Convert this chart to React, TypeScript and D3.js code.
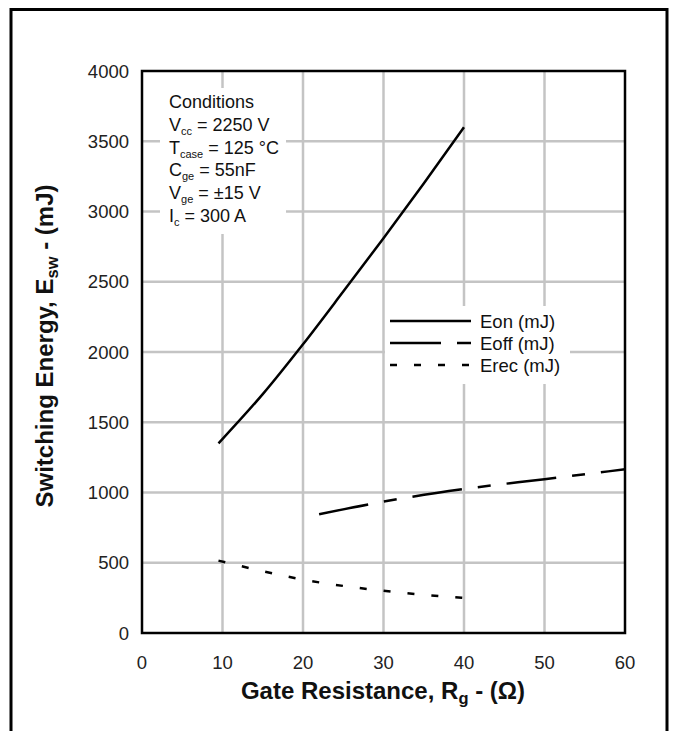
import React from "react";
import * as d3 from "d3";

const xTicks = [0, 10, 20, 30, 40, 50, 60];
const yTicks = [0, 500, 1000, 1500, 2000, 2500, 3000, 3500, 4000];

const eonX = [9.5, 15, 20, 25, 30, 35, 40];
const eonY = [1350, 1700, 2055, 2430, 2810, 3200, 3600];
const eoffX = [22, 30, 40, 50, 60];
const eoffY = [845, 935, 1025, 1095, 1165];
const erecX = [9.5, 15, 20, 25, 30, 35, 40];
const erecY = [515, 440, 380, 335, 300, 272, 250];

const legendNames = ["Eon (mJ)", "Eoff (mJ)", "Erec (mJ)"];
const dashes = ["none", "50 16 13 16", "7 17"];
const legendDashes = ["none", "51 16 14", "7 17"];

const FONT = "'Liberation Sans', Arial, sans-serif";

export default function App() {
  const L = 142, R = 625, T = 71, B = 633;
  const x = d3.scaleLinear().domain([0, 60]).range([L, R]);
  const y = d3.scaleLinear().domain([0, 4000]).range([B, T]);
  const line = d3.line<[number, number]>().x(d => x(d[0])).y(d => y(d[1])).curve(d3.curveMonotoneX);
  const series = [
    eonX.map((v, i) => [v, eonY[i]] as [number, number]),
    eoffX.map((v, i) => [v, eoffY[i]] as [number, number]),
    erecX.map((v, i) => [v, erecY[i]] as [number, number]),
  ];
  const condLines: [string, string, string][] = [
    ["Conditions", "", ""],
    ["V", "cc", " = 2250 V"],
    ["T", "case", " = 125 °C"],
    ["C", "ge", " = 55nF"],
    ["V", "ge", " = ±15 V"],
    ["I", "c", " = 300 A"],
  ];
  return (
    <svg width={674} height={731} style={{ position: "absolute", left: 0, top: 0 }} fontFamily={FONT}>
      <rect x={0} y={0} width={674} height={731} fill="#fff" />
      {/* outer frame */}
      <path d="M11,731 V9.5 H667 V731" fill="none" stroke="#000" strokeWidth={3} />
      {/* grid */}
      {xTicks.slice(1, -1).map(t => (
        <line key={"gx" + t} x1={x(t)} x2={x(t)} y1={T} y2={B} stroke="#c4c4c4" strokeWidth={2.5} />
      ))}
      {yTicks.slice(1, -1).map(t => (
        <line key={"gy" + t} x1={L} x2={R} y1={y(t)} y2={y(t)} stroke="#c4c4c4" strokeWidth={2.5} />
      ))}
      {/* conditions box */}
      <rect x={160} y={88} width={126} height={146} fill="#fff" />
      <text x={169} fontSize={18} fill="#111">
        {condLines.map((c, i) => (
          <tspan key={i} x={169} y={108 + i * 22.8}>
            {c[0]}
            {c[1] && <tspan fontSize={11} dy={4}>{c[1]}</tspan>}
            {c[1] && <tspan dy={-4}>{c[2]}</tspan>}
          </tspan>
        ))}
      </text>
      {/* legend box */}
      <rect x={385} y={306} width={185} height={78} fill="#fff" />
      {legendNames.map((n, i) => (
        <g key={n}>
          <line x1={390} x2={471} y1={321 + i * 22} y2={321 + i * 22} stroke="#000" strokeWidth={2.5}
            strokeDasharray={legendDashes[i] === "none" ? undefined : legendDashes[i]} />
          <text x={480} y={327.5 + i * 22} fontSize={18.5} fill="#111">{n}</text>
        </g>
      ))}
      {/* series */}
      {series.map((s, i) => (
        <path key={i} d={line(s) || ""} fill="none" stroke="#000" strokeWidth={2.5}
          strokeDasharray={dashes[i] === "none" ? undefined : dashes[i]} />
      ))}
      {/* plot border */}
      <rect x={L} y={T} width={R - L} height={B - T} fill="none" stroke="#000" strokeWidth={2.5} />
      {/* tick labels */}
      {yTicks.map(t => (
        <text key={"yl" + t} x={129} y={y(t) + 6.5} textAnchor="end" fontSize={18.5} fill="#222">{t}</text>
      ))}
      {xTicks.map(t => (
        <text key={"xl" + t} x={x(t)} y={669} textAnchor="middle" fontSize={18.5} fill="#222">{t}</text>
      ))}
      {/* axis titles */}
      <text x={383} y={699} textAnchor="middle" fontSize={24} fontWeight="bold" fill="#111">
        Gate Resistance, R<tspan fontSize={16.5} dy={5}>g</tspan><tspan dy={-5}> - (Ω)</tspan>
      </text>
      <text transform="translate(53,346) rotate(-90)" textAnchor="middle" fontSize={24} fontWeight="bold" fill="#111">
        Switching Energy, E<tspan fontSize={16.5} dy={5}>sw</tspan><tspan dy={-5}> - (mJ)</tspan>
      </text>
    </svg>
  );
}
